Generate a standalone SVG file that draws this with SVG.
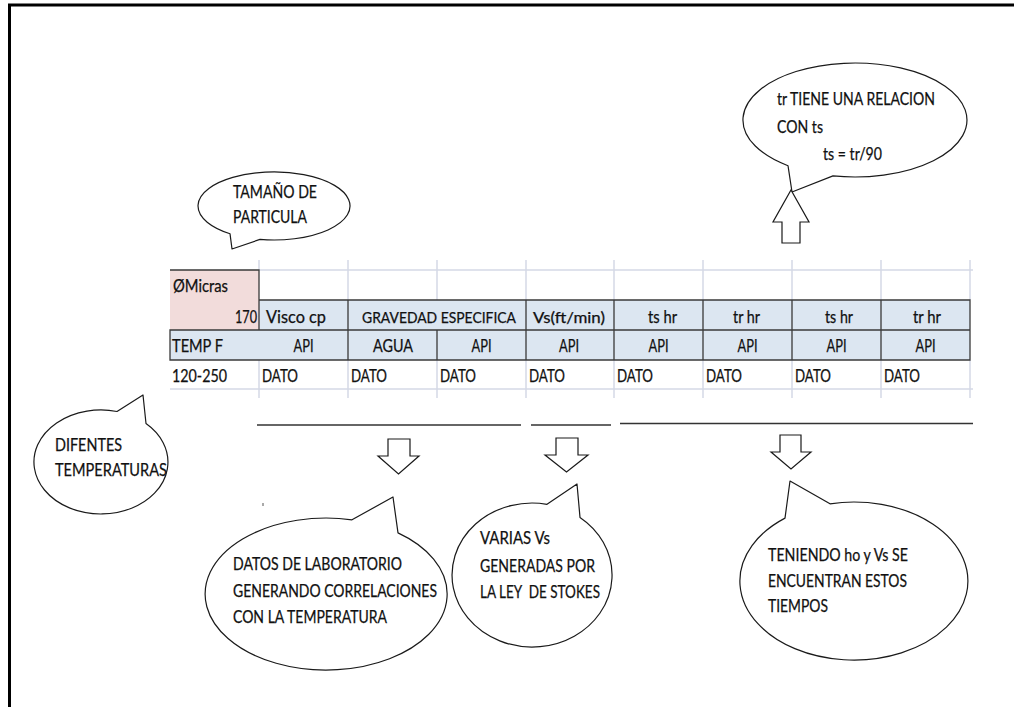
<svg xmlns="http://www.w3.org/2000/svg" width="1014" height="707" viewBox="0 0 1014 707">
  <style>
    text { font-family: Lato, "Open Sans", "Liberation Sans", sans-serif; fill: #111111; stroke: #111111; stroke-width: 0.25; }
    .cell { font-size: 16.5px; }
    .tight { font-size: 15px; }
    .mid { text-anchor: middle; }
    .note { font-size: 17.5px; }
    .grid { stroke: #d5d9e6; stroke-width: 1.5; fill: none; }
    .rule { stroke: #3a3a3a; stroke-width: 1.3; fill: none; }
    .bubble { fill: #ffffff; stroke: #1a1a1a; stroke-width: 1.2; stroke-linejoin: round; }
    .block { fill: #ffffff; stroke: #1a1a1a; stroke-width: 1.2; }
    .bar { stroke: #333333; stroke-width: 1.6; }
  </style>

  <rect x="0" y="0" width="1014" height="707" fill="#ffffff"/>
  <!-- page frame -->
  <path d="M9.5 707 V5 H1014" fill="none" stroke="#000000" stroke-width="3"/>

  <!-- spreadsheet block -->
  <g id="table">
    <!-- fills -->
    <rect x="170" y="270" width="89" height="60" fill="#f2dcdb"/>
    <rect x="259" y="300" width="711" height="30" fill="#dce6f1"/>
    <rect x="170" y="330" width="800" height="30" fill="#dce6f1"/>
    <!-- light gridlines -->
    <path class="grid" d="M259 270 H973 M170 389 H973
      M259 260 V270 M348 260 V300 M437 260 V300 M526 260 V300 M614 260 V300 M703 260 V300 M792 260 V300 M881 260 V300 M970 260 V300
      M259 360 V398 M348 360 V398 M437 360 V398 M526 360 V398 M614 360 V398 M703 360 V398 M792 360 V398 M881 360 V398 M970 360 V398"/>
    <!-- cell borders -->
    <path class="rule" d="M170 270 H259 V330
      M259 300 H970 V360 H170 V330 H970
      M348 300 V360 M437 330 V360 M526 300 V360 M614 300 V360 M703 300 V360 M792 300 V360 M881 300 V360"/>

    <text class="cell" x="173" y="292" textLength="55" lengthAdjust="spacingAndGlyphs">ØMicras</text>
    <text class="cell" x="235" y="322.5" textLength="22" lengthAdjust="spacingAndGlyphs">170</text>
    <text class="cell" x="266" y="322.5" textLength="60" lengthAdjust="spacingAndGlyphs">Visco cp</text>
    <text class="tight mid" x="439" y="322.5" textLength="154" lengthAdjust="spacingAndGlyphs">GRAVEDAD ESPECIFICA</text>
    <text class="tight mid" x="569" y="322.5" textLength="72" lengthAdjust="spacingAndGlyphs">Vs(ft/min)</text>
    <text class="cell" x="648" y="322.5" textLength="29" lengthAdjust="spacingAndGlyphs">ts hr</text>
    <text class="cell" x="733" y="322.5" textLength="27" lengthAdjust="spacingAndGlyphs">tr hr</text>
    <text class="cell" x="825" y="322.5" textLength="28" lengthAdjust="spacingAndGlyphs">ts hr</text>
    <text class="cell" x="913" y="322.5" textLength="28" lengthAdjust="spacingAndGlyphs">tr hr</text>

    <text class="cell" x="172" y="352" textLength="51" lengthAdjust="spacingAndGlyphs">TEMP F</text>
    <text class="cell" x="293.5" y="352" textLength="20" lengthAdjust="spacingAndGlyphs">API</text>
    <text class="cell" x="373" y="352" textLength="40" lengthAdjust="spacingAndGlyphs">AGUA</text>
    <text class="cell" x="471.5" y="352" textLength="20" lengthAdjust="spacingAndGlyphs">API</text>
    <text class="cell" x="559" y="352" textLength="20" lengthAdjust="spacingAndGlyphs">API</text>
    <text class="cell" x="648.5" y="352" textLength="20" lengthAdjust="spacingAndGlyphs">API</text>
    <text class="cell" x="737.5" y="352" textLength="20" lengthAdjust="spacingAndGlyphs">API</text>
    <text class="cell" x="826.5" y="352" textLength="20" lengthAdjust="spacingAndGlyphs">API</text>
    <text class="cell" x="915.5" y="352" textLength="20" lengthAdjust="spacingAndGlyphs">API</text>

    <text class="cell" x="172" y="382" textLength="55" lengthAdjust="spacingAndGlyphs">120-250</text>
    <text class="cell" x="262" y="382" textLength="36" lengthAdjust="spacingAndGlyphs">DATO</text>
    <text class="cell" x="351" y="382" textLength="36" lengthAdjust="spacingAndGlyphs">DATO</text>
    <text class="cell" x="440" y="382" textLength="36" lengthAdjust="spacingAndGlyphs">DATO</text>
    <text class="cell" x="529" y="382" textLength="36" lengthAdjust="spacingAndGlyphs">DATO</text>
    <text class="cell" x="617" y="382" textLength="36" lengthAdjust="spacingAndGlyphs">DATO</text>
    <text class="cell" x="706" y="382" textLength="36" lengthAdjust="spacingAndGlyphs">DATO</text>
    <text class="cell" x="795" y="382" textLength="36" lengthAdjust="spacingAndGlyphs">DATO</text>
    <text class="cell" x="884" y="382" textLength="36" lengthAdjust="spacingAndGlyphs">DATO</text>
  </g>

  <!-- callout bubbles -->
  <g id="note-relacion">
    <path class="bubble" d="M788 165.7 L792 192 L833 175.9 A112 57 0 1 0 788 165.7 Z"/>
    <text class="note" x="777" y="105" textLength="158" lengthAdjust="spacingAndGlyphs">tr TIENE UNA RELACION</text>
    <text class="note" x="777" y="133" textLength="46" lengthAdjust="spacingAndGlyphs">CON ts</text>
    <text class="note" x="823" y="160" textLength="59" lengthAdjust="spacingAndGlyphs">ts = tr/90</text>
  </g>

  <g id="note-particula">
    <path class="bubble" d="M230 233.7 L232 249 L260 239.4 A76 34 0 1 0 230 233.7 Z"/>
    <text class="note" x="233" y="198" textLength="84" lengthAdjust="spacingAndGlyphs">TAMAÑO DE</text>
    <text class="note" x="233" y="223" textLength="74" lengthAdjust="spacingAndGlyphs">PARTICULA</text>
  </g>

  <g id="note-temperaturas">
    <path class="bubble" d="M117 411.5 L143 395 L146 423.5 A67 52 0 1 1 117 411.5 Z"/>
    <text class="note" x="55" y="451" textLength="67" lengthAdjust="spacingAndGlyphs">DIFENTES</text>
    <text class="note" x="55" y="476" textLength="112" lengthAdjust="spacingAndGlyphs">TEMPERATURAS</text>
  </g>

  <g id="note-laboratorio">
    <path class="bubble" d="M352 519.8 L393 497 L398 532.9 A121 76 0 1 1 352 519.8 Z"/>
    <text class="note" x="233" y="570" textLength="169" lengthAdjust="spacingAndGlyphs">DATOS DE LABORATORIO</text>
    <text class="note" x="233" y="597" textLength="204" lengthAdjust="spacingAndGlyphs">GENERANDO CORRELACIONES</text>
    <text class="note" x="233" y="623" textLength="154" lengthAdjust="spacingAndGlyphs">CON LA TEMPERATURA</text>
  </g>

  <g id="note-stokes">
    <path class="bubble" d="M547 504.3 L577 484 L580 517.4 A80 72 0 1 1 547 504.3 Z"/>
    <text class="note" x="480" y="544" textLength="70" lengthAdjust="spacingAndGlyphs">VARIAS Vs</text>
    <text class="note" x="480" y="572" textLength="115" lengthAdjust="spacingAndGlyphs">GENERADAS POR</text>
    <text class="note" x="480" y="598" textLength="120" lengthAdjust="spacingAndGlyphs" xml:space="preserve">LA LEY  DE STOKES</text>
  </g>

  <g id="note-tiempos">
    <path class="bubble" d="M785 518.1 L790 481 L830 503.8 A114 79 0 1 1 785 518.1 Z"/>
    <text class="note" x="768" y="561" textLength="140" lengthAdjust="spacingAndGlyphs">TENIENDO ho y Vs SE</text>
    <text class="note" x="768" y="587" textLength="139" lengthAdjust="spacingAndGlyphs">ENCUENTRAN ESTOS</text>
    <text class="note" x="768" y="612" textLength="60" lengthAdjust="spacingAndGlyphs">TIEMPOS</text>
  </g>

  <!-- grouping bars and block arrows -->
  <g id="connectors">
    <line class="bar" x1="257" y1="425" x2="521" y2="425"/>
    <line class="bar" x1="531" y1="425" x2="611" y2="425"/>
    <line class="bar" x1="620" y1="423.5" x2="973" y2="423.5"/>

    <polygon class="block" points="388,439 410,439 410,456 419,456 398.5,474 378,456 388,456"/>
    <polygon class="block" points="556,438 578,438 578,455 588,455 566.5,472 545,455 556,455"/>
    <polygon class="block" points="780,435 801,435 801,452 811,452 791,469 771,452 780,452"/>
    <polygon class="block" points="782,243 800,243 800,222 809,222 791,190 773,222 782,222"/>

    <line x1="263" y1="503" x2="263" y2="506" stroke="#555555" stroke-width="1"/>
  </g>
</svg>
